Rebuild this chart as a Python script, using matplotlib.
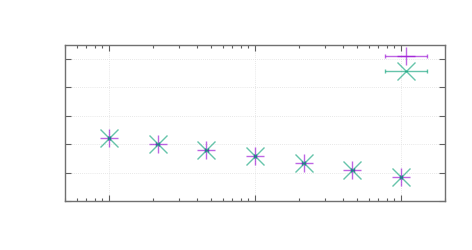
import matplotlib
matplotlib.use("Agg")
import matplotlib.pyplot as plt
from matplotlib.legend_handler import HandlerErrorbar
from matplotlib.ticker import LogLocator, NullFormatter

# data
x_vals = [1.0, 2.154, 4.642, 10.0, 21.54, 46.42, 100.0]
y_series1 = [2.20, 1.99, 1.79, 1.57, 1.32, 1.09, 0.85]
y_series2 = [2.20, 1.99, 1.79, 1.57, 1.32, 1.09, 0.85]
x_err_frac = [0.02, 0.02, 0.02, 0.02, 0.02, 0.02, 0.02]
y_ticks = [0, 1, 2, 3, 4, 5]

purple = "#9400d3"
teal = "#009e73"

fig = plt.figure(figsize=(4.72, 2.5), dpi=100)
ax = fig.add_axes([65/472, 1-201/250, (445-65)/472, (201-44.5)/250])

xerr = [[x*f for x, f in zip(x_vals, x_err_frac)], [x*f for x, f in zip(x_vals, x_err_frac)]]

e1 = ax.errorbar(x_vals, y_series1, xerr=xerr, fmt='+', color=purple, ms=13, mew=1.0,
                 elinewidth=1.0, capsize=1.5, capthick=1.0, alpha=0.6, zorder=3)
e2 = ax.errorbar(x_vals, y_series2, xerr=xerr, fmt='x', color=teal, ms=13, mew=1.0,
                 elinewidth=1.0, capsize=1.5, capthick=1.0, alpha=0.6, zorder=3)

ax.set_xscale('log')
ax.set_xlim(0.5, 200)
ax.set_ylim(0, 5.5)
ax.set_yticks(y_ticks)
ax.xaxis.set_major_locator(LogLocator(base=10, numticks=10))
ax.xaxis.set_minor_locator(LogLocator(base=10, subs=range(2, 10), numticks=20))
ax.xaxis.set_major_formatter(NullFormatter())
ax.xaxis.set_minor_formatter(NullFormatter())
ax.yaxis.set_major_formatter(NullFormatter())

ax.tick_params(which='both', direction='in', top=True, right=True, colors='#606060',
               labelbottom=False, labelleft=False)
ax.tick_params(which='major', length=4.3, width=0.8)
ax.tick_params(which='minor', length=2.2, width=0.8)
ax.grid(True, which='major', linestyle=(0, (1, 1.5)), color='#e0e0e0', linewidth=0.6)
for s in ax.spines.values():
    s.set_color('#707070')
    s.set_linewidth(1.0)

hm = {type(e1): HandlerErrorbar(xerr_size=1.5, yerr_size=0.0, numpoints=1)}
leg1 = fig.legend([e1], [''], loc='center', bbox_to_anchor=(406/472, 1-56.7/250),
                  frameon=False, handlelength=3.2, handletextpad=0, borderpad=0,
                  borderaxespad=0, fontsize=10, handler_map=hm)
leg2 = fig.legend([e2], [''], loc='center', bbox_to_anchor=(406/472, 1-72.3/250),
                  frameon=False, handlelength=3.2, handletextpad=0, borderpad=0,
                  borderaxespad=0, fontsize=10, handler_map=hm)

fig.savefig("out.png", dpi=100)
